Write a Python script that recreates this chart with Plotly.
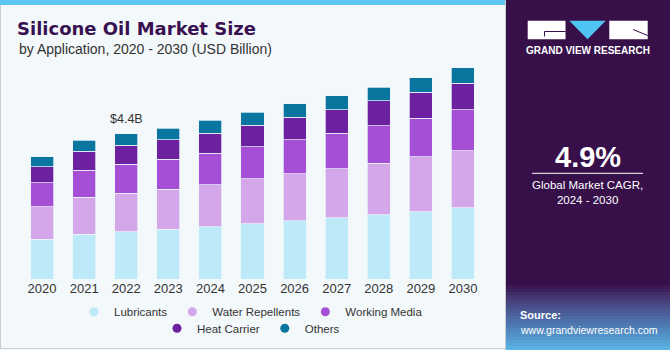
import plotly.graph_objects as go

# ---------------- data ----------------
years = ["2020", "2021", "2022", "2023", "2024", "2025", "2026", "2027", "2028", "2029", "2030"]
lubricants = [1.20, 1.36, 1.43, 1.51, 1.58, 1.68, 1.76, 1.85, 1.95, 2.04, 2.15]
water_repellents = [0.99, 1.12, 1.17, 1.21, 1.28, 1.35, 1.42, 1.49, 1.56, 1.66, 1.73]
working_media = [0.72, 0.82, 0.87, 0.91, 0.94, 0.98, 1.03, 1.07, 1.13, 1.17, 1.24]
heat_carrier = [0.49, 0.57, 0.58, 0.59, 0.62, 0.65, 0.68, 0.72, 0.75, 0.78, 0.80]
others = [0.30, 0.33, 0.35, 0.35, 0.38, 0.39, 0.42, 0.42, 0.42, 0.45, 0.48]
series_names = ["Lubricants", "Water Repellents", "Working Media", "Heat Carrier", "Others"]
label_year = "2022"
cagr_text = "4.9%"

# ---------------- styles ----------------
colors = ["#BEE9F8", "#D4A6EA", "#A44FD6", "#6D21A0", "#0A76A0"]
W, H = 670, 350
L, R, T, B = 21, 186, 61, 71
PW, PH = W - L - R, H - T - B
BG = "#F3F8FB"
PANEL = "#37104A"
FONT = "Liberation Sans, Arial, sans-serif"


def fx(px):
    return (px - L) / PW


def fy(py):
    return (H - B - py) / PH


fig = go.Figure()
series = [lubricants, water_repellents, working_media, heat_carrier, others]
for name, vals, col in zip(series_names, series, colors):
    fig.add_trace(go.Bar(
        x=years, y=vals, name=name, marker_color=col,
        marker_line=dict(color="rgba(235,245,250,0.9)", width=0.8),
        showlegend=False, hoverinfo="x+y+name",
    ))

# legend entries (circle markers), split in two centred rows
for i, (name, col) in enumerate(zip(series_names, colors)):
    fig.add_trace(go.Scatter(
        x=[None], y=[None], mode="markers", name=name,
        marker=dict(color=col, size=9, symbol="circle"),
        legend="legend" if i < 3 else "legend2",
    ))

# total label
totals = [sum(v) for v in zip(*series)]
idx = years.index(label_year)
fig.add_annotation(
    x=idx, y=totals[idx], xref="x", yref="y",
    text=f"${totals[idx]:.1f}B", showarrow=False, yanchor="middle", yshift=15,
    font=dict(family=FONT, size=12.5, color="#333333"),
)

shapes = []
# left card decorations
shapes.append(dict(type="rect", xref="paper", yref="paper", x0=fx(0), x1=fx(505), y0=fy(0), y1=fy(5),
                   fillcolor="#5EC5EF", line_width=0, layer="below"))
shapes.append(dict(type="line", xref="paper", yref="paper", x0=fx(0.5), x1=fx(0.5), y0=fy(5), y1=fy(349),
                   line=dict(color="#C9CDD0", width=1)))
shapes.append(dict(type="line", xref="paper", yref="paper", x0=fx(0), x1=fx(505), y0=fy(348.5), y1=fy(348.5),
                   line=dict(color="#C9CDD0", width=1)))
# right panel
shapes.append(dict(type="rect", xref="paper", yref="paper", x0=fx(505.5), x1=fx(670), y0=fy(0), y1=fy(350),
                   fillcolor=PANEL, line_width=0))
shapes.append(dict(type="line", xref="paper", yref="paper", x0=fx(505.5), x1=fx(505.5), y0=fy(0), y1=fy(350),
                   line=dict(color="#C9CDD0", width=1)))


# gradient at the bottom of the panel
def lerp(c1, c2, t):
    a = [int(c1[i:i + 2], 16) for i in (1, 3, 5)]
    b = [int(c2[i:i + 2], 16) for i in (1, 3, 5)]
    return "#" + "".join(f"{round(x + (y - x) * t):02X}" for x, y in zip(a, b))


stops = [(283, "#38124C"), (300, "#47427E"), (325, "#4E7DB6"), (350, "#5BB8E8")]
step = 3
y = 283
while y < 350:
    for (ya, ca), (yb, cb) in zip(stops[:-1], stops[1:]):
        if ya <= y < yb:
            col = lerp(ca, cb, (y - ya) / (yb - ya))
            break
    shapes.append(dict(type="rect", xref="paper", yref="paper", x0=fx(506), x1=fx(670),
                       y0=fy(y), y1=fy(min(y + step, 350)), fillcolor=col, line_width=0))
    y += step

# logo
shapes.append(dict(type="rect", xref="paper", yref="paper", x0=fx(527.7), x1=fx(565.5), y0=fy(20.7), y1=fy(39.3),
                   fillcolor="white", line_width=0))
shapes.append(dict(type="path", xref="paper", yref="paper",
                   path=f"M {fx(569.3)},{fy(20.7)} L {fx(605.7)},{fy(20.7)} L {fx(587.5)},{fy(39.3)} Z",
                   fillcolor="#4FC3F2", line_width=0))
shapes.append(dict(type="rect", xref="paper", yref="paper", x0=fx(609.3), x1=fx(647.7), y0=fy(20.7), y1=fy(39.3),
                   fillcolor="white", line_width=0))
shapes.append(dict(type="path", xref="paper", yref="paper",
                   path=f"M {fx(544.5)},{fy(36.5)} L {fx(544.5)},{fy(31.5)} L {fx(565.5)},{fy(31.5)}",
                   line=dict(color=PANEL, width=1)))
shapes.append(dict(type="path", xref="paper", yref="paper",
                   path=f"M {fx(633)},{fy(29.5)} L {fx(647.7)},{fy(35.5)}",
                   line=dict(color=PANEL, width=1)))
# line under CAGR
shapes.append(dict(type="line", xref="paper", yref="paper", x0=fx(532), x1=fx(643), y0=fy(173.3), y1=fy(173.3),
                   line=dict(color="white", width=1)))

annotations = [
    dict(text="by Application, 2020 - 2030 (USD Billion)", x=fx(17), y=fy(49), xanchor="left", yanchor="middle",
         font=dict(family=FONT, size=14, color="#333333")),
    dict(text="<b>GRAND VIEW RESEARCH</b>", x=fx(587.7), y=fy(50.7), xanchor="center", yanchor="middle",
         font=dict(family=FONT, size=10, color="white")),
    dict(text=f"<b>{cagr_text}</b>", x=fx(587.5), y=fy(156.5), xanchor="center", yanchor="middle",
         font=dict(family=FONT, size=29, color="white")),
    dict(text="Global Market CAGR,<br>2024 - 2030", x=fx(587.5), y=fy(193), xanchor="center", yanchor="middle",
         font=dict(family=FONT, size=11.5, color="white")),
    dict(text="<b>Source:</b>", x=fx(518), y=fy(315), xanchor="left", yanchor="middle",
         font=dict(family=FONT, size=11, color="white")),
    dict(text="www.grandviewresearch.com", x=fx(518), y=fy(329.5), xanchor="left", yanchor="middle",
         font=dict(family=FONT, size=10.5, color="white")),
]
for a in annotations:
    a.update(xref="paper", yref="paper", showarrow=False)
    fig.add_annotation(**a)

legend_common = dict(orientation="h", xanchor="center", yanchor="middle", bgcolor="rgba(0,0,0,0)",
                     traceorder="normal",
                     font=dict(family=FONT, size=11.5, color="#333333"), itemclick=False,
                     itemdoubleclick=False)

fig.update_layout(
    width=W, height=H, autosize=False,
    margin=dict(l=L, r=R, t=T, b=B, pad=0, autoexpand=False),
    paper_bgcolor=BG, plot_bgcolor=BG,
    barmode="stack", bargap=0.453,
    title=dict(text="<b>Silicone Oil Market Size</b>", xref="container", yref="container",
               x=17 / W, y=1 - 28.5 / H, xanchor="left", yanchor="middle",
               font=dict(family="DejaVu Sans, sans-serif", size=18, color="#3A1150")),
    xaxis=dict(type="category", range=[-0.5, 10.5], showgrid=False, showline=False, zeroline=False,
               ticks="", tickfont=dict(family=FONT, size=13, color="#333333"), fixedrange=True),
    yaxis=dict(range=[0, 6.6], visible=False, fixedrange=True),
    legend=dict(x=fx(251), y=fy(311.7), **legend_common),
    legend2=dict(x=fx(251), y=fy(328.3), **legend_common),
    shapes=shapes,
    showlegend=True,
)

fig.write_html("out.html", config={"displayModeBar": False})
